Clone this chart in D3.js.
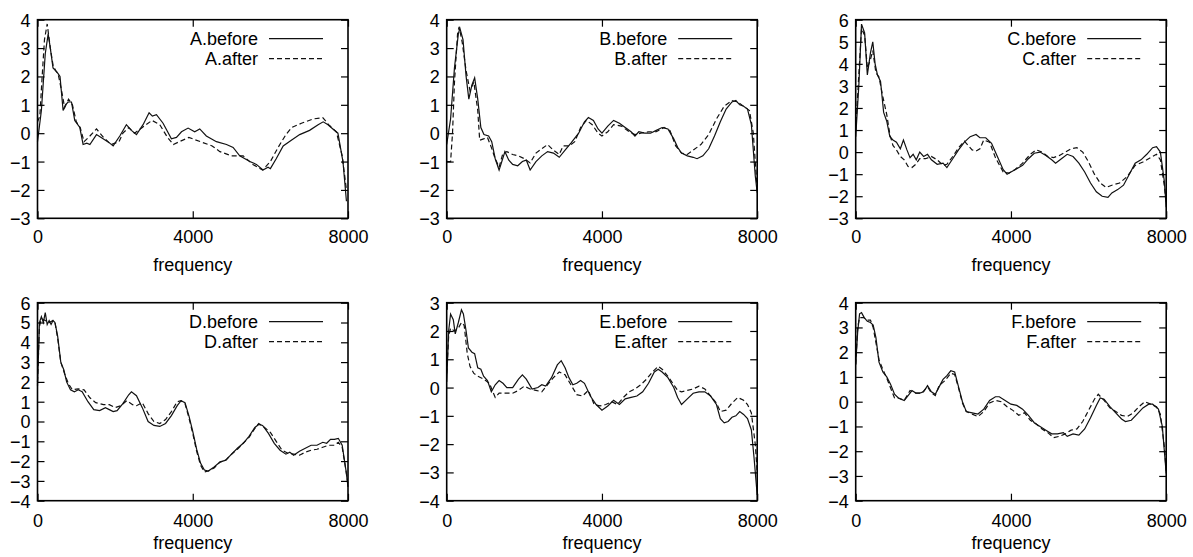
<!DOCTYPE html>
<html>
<head>
<meta charset="utf-8">
<script src="https://cdn.jsdelivr.net/npm/d3@7"></script>
<style>
  body { margin: 0; background: #fff; }
  svg { display: block; font-family: "Liberation Sans", Arial, Helvetica, sans-serif; }
</style>
</head>
<body>
<div id="chart"></div>
<script>
// values: [frequency, value]
var xTicks = [0, 4000, 8000];
var panelNames = ["A", "B", "C", "D", "E", "F"];
var yDomains = [[-3, 4], [-3, 4], [-3, 6], [-4, 6], [-4, 3], [-4, 4]];

var aBefore = [[0,-0.3],[100,0.8],[200,2.8],[275,3.5],[330,3.0],[400,2.3],[470,2.2],[530,2.1],[580,2.0],[660,0.8],[720,1.0],[790,1.1],[875,1.1],[960,0.45],[1090,0.2],[1175,-0.4],[1270,-0.35],[1350,-0.4],[1520,-0.05],[1690,-0.2],[1860,-0.35],[1950,-0.45],[2120,-0.1],[2290,0.3],[2420,0.1],[2550,-0.05],[2720,0.3],[2875,0.72],[2960,0.6],[3065,0.65],[3235,0.35],[3450,-0.2],[3580,-0.15],[3710,0.05],[3880,0.18],[4050,0.05],[4180,0.15],[4350,-0.1],[4610,-0.3],[4870,-0.4],[5040,-0.5],[5210,-0.8],[5470,-1.0],[5640,-1.1],[5810,-1.3],[5940,-1.2],[6000,-1.25],[6150,-0.9],[6330,-0.45],[6540,-0.25],[6755,-0.05],[7010,0.1],[7230,0.3],[7360,0.4],[7485,0.3],[7610,0.15],[7740,0.0],[7870,-1.0],[7960,-2.4]];
var aAfter = [[0,0.4],[60,0.6],[120,2.0],[180,3.3],[250,3.85],[330,3.0],[400,2.4],[470,2.2],[530,2.1],[620,1.5],[700,0.9],[800,1.2],[900,1.0],[1000,0.4],[1100,0.2],[1200,-0.3],[1350,-0.1],[1520,0.15],[1700,-0.15],[1900,-0.4],[2100,-0.3],[2200,0.0],[2350,0.2],[2500,0.0],[2700,0.2],[2950,0.45],[3150,0.3],[3350,-0.15],[3500,-0.4],[3650,-0.3],[3900,-0.15],[4200,-0.3],[4500,-0.45],[4700,-0.65],[5000,-0.8],[5300,-0.8],[5550,-1.1],[5800,-1.3],[6000,-1.0],[6200,-0.5],[6400,-0.05],[6550,0.2],[6800,0.35],[7100,0.5],[7350,0.55],[7500,0.3],[7700,0.05],[7850,-0.8],[7960,-2.0]];

var bBefore = [[0,-0.4],[100,0.5],[200,2.3],[300,3.5],[340,3.7],[420,3.3],[500,2.0],[570,1.2],[650,1.7],[720,1.95],[800,1.2],[880,0.2],[960,-0.05],[1080,-0.1],[1160,-0.3],[1250,-0.9],[1350,-1.3],[1420,-1.0],[1500,-0.65],[1600,-0.95],[1700,-1.1],[1830,-1.15],[1950,-1.0],[2050,-0.95],[2150,-1.3],[2300,-1.0],[2450,-0.8],[2600,-0.65],[2750,-0.7],[2900,-0.85],[3050,-0.6],[3200,-0.35],[3400,0.0],[3550,0.4],[3650,0.55],[3780,0.45],[3900,0.15],[4000,0.0],[4150,0.25],[4300,0.45],[4450,0.35],[4600,0.2],[4750,0.05],[4850,-0.1],[4950,0.05],[5100,0.0],[5250,0.0],[5400,0.1],[5550,0.2],[5700,0.15],[5850,-0.2],[5950,-0.5],[6050,-0.7],[6200,-0.8],[6350,-0.85],[6450,-0.9],[6600,-0.8],[6750,-0.55],[6900,-0.1],[7050,0.4],[7200,0.85],[7350,1.1],[7450,1.15],[7550,1.0],[7650,0.95],[7750,0.85],[7850,0.3],[7950,-1.5],[8000,-2.1]];
var bAfter = [[0,-1.0],[100,-1.0],[150,0.0],[200,1.8],[280,3.5],[320,3.75],[400,3.2],[500,2.2],[600,1.5],[700,1.8],[800,0.8],[850,-0.25],[950,-0.2],[1050,-0.15],[1150,-0.5],[1250,-0.9],[1350,-1.2],[1450,-0.7],[1550,-0.65],[1700,-0.75],[1850,-0.8],[2000,-0.9],[2150,-1.05],[2300,-0.7],[2450,-0.55],[2600,-0.4],[2750,-0.6],[2900,-0.75],[3000,-0.45],[3150,-0.45],[3300,-0.3],[3450,0.2],[3600,0.45],[3750,0.3],[3900,0.0],[4000,-0.1],[4150,0.05],[4300,0.3],[4500,0.25],[4700,0.05],[4850,-0.05],[5000,0.0],[5200,0.05],[5400,0.05],[5600,0.2],[5750,0.1],[5900,-0.45],[6050,-0.7],[6200,-0.75],[6350,-0.6],[6550,-0.4],[6750,-0.05],[6950,0.5],[7150,0.95],[7350,1.15],[7500,1.1],[7650,0.95],[7800,0.8],[7900,0.0],[8000,-2.0]];

var cBefore = [[0,0.7],[80,3.0],[150,5.8],[230,5.4],[300,3.5],[380,4.5],[440,5.0],[500,4.0],[560,3.5],[640,3.2],[720,1.8],[800,1.4],[880,0.7],[960,0.55],[1050,0.45],[1150,0.15],[1230,0.55],[1320,0.1],[1400,-0.25],[1480,-0.1],[1560,-0.35],[1650,0.0],[1750,-0.2],[1850,-0.1],[1950,-0.35],[2100,-0.55],[2250,-0.5],[2350,-0.7],[2500,-0.3],[2650,0.1],[2800,0.45],[2950,0.7],[3100,0.8],[3200,0.65],[3350,0.65],[3500,0.4],[3650,-0.2],[3800,-0.8],[3900,-1.0],[4000,-0.9],[4150,-0.75],[4300,-0.6],[4450,-0.3],[4600,-0.05],[4750,0.0],[4900,-0.15],[5050,-0.35],[5150,-0.5],[5300,-0.3],[5450,-0.1],[5600,-0.2],[5750,-0.5],[5900,-0.9],[6050,-1.4],[6200,-1.8],[6350,-2.0],[6500,-2.05],[6600,-1.85],[6750,-1.7],[6900,-1.5],[7050,-1.0],[7200,-0.5],[7350,-0.35],[7500,-0.1],[7650,0.2],[7750,0.25],[7850,0.0],[7950,-1.3],[8000,-2.5]];
var cAfter = [[0,1.0],[80,3.5],[150,5.6],[230,5.3],[300,3.8],[380,4.2],[440,4.6],[520,3.6],[600,3.4],[700,2.5],[800,1.7],[880,0.8],[960,0.3],[1050,0.1],[1150,-0.2],[1250,-0.35],[1350,-0.65],[1450,-0.7],[1550,-0.55],[1650,-0.3],[1800,-0.3],[1950,-0.2],[2100,-0.35],[2250,-0.6],[2350,-0.55],[2500,-0.2],[2650,0.2],[2800,0.5],[2900,0.3],[3000,0.1],[3100,0.05],[3200,0.15],[3300,0.55],[3450,0.45],[3600,-0.25],[3800,-0.9],[3950,-0.95],[4100,-0.8],[4300,-0.5],[4500,-0.1],[4650,0.1],[4800,0.0],[4950,-0.2],[5100,-0.25],[5250,-0.15],[5400,0.0],[5550,0.15],[5700,0.2],[5850,0.0],[6000,-0.45],[6150,-1.0],[6300,-1.4],[6450,-1.6],[6600,-1.5],[6800,-1.4],[7000,-1.1],[7200,-0.6],[7400,-0.45],[7600,-0.25],[7750,-0.1],[7850,-0.35],[7950,-1.5],[8000,-2.3]];

var dBefore = [[0,1.8],[50,5.0],[100,5.3],[150,5.0],[200,5.5],[250,4.9],[300,5.1],[350,4.9],[400,5.1],[450,5.0],[520,4.3],[600,3.0],[680,2.6],[750,2.0],[850,1.6],[950,1.5],[1050,1.6],[1150,1.5],[1300,1.0],[1450,0.6],[1600,0.55],[1750,0.7],[1850,0.6],[1950,0.5],[2050,0.55],[2200,0.9],[2350,1.35],[2420,1.5],[2550,1.3],[2700,0.7],[2850,0.0],[3000,-0.2],[3150,-0.25],[3300,-0.1],[3450,0.3],[3600,0.8],[3700,1.05],[3800,0.95],[3900,0.3],[4000,-0.5],[4100,-1.4],[4200,-2.1],[4300,-2.45],[4400,-2.5],[4550,-2.3],[4700,-2.05],[4850,-1.95],[5000,-1.65],[5150,-1.35],[5300,-1.1],[5450,-0.75],[5600,-0.3],[5700,-0.15],[5800,-0.2],[5950,-0.6],[6100,-1.1],[6250,-1.45],[6400,-1.65],[6500,-1.55],[6600,-1.7],[6750,-1.5],[6900,-1.35],[7050,-1.2],[7200,-1.2],[7350,-1.05],[7450,-1.1],[7550,-0.9],[7650,-0.9],[7750,-0.85],[7850,-1.2],[7950,-2.5],[8000,-3.3]];
var dAfter = [[0,2.0],[50,4.8],[100,5.2],[200,5.1],[300,5.0],[400,5.1],[450,5.0],[520,4.2],[600,3.0],[700,2.4],[800,1.9],[900,1.6],[1050,1.65],[1200,1.6],[1350,1.2],[1500,0.95],[1700,0.85],[1850,0.85],[2000,0.7],[2150,0.8],[2300,1.05],[2450,0.85],[2550,0.8],[2700,0.95],[2850,0.4],[3000,0.0],[3150,-0.1],[3300,0.1],[3450,0.5],[3600,1.0],[3700,1.05],[3800,0.9],[3900,0.2],[4000,-0.6],[4100,-1.5],[4200,-2.2],[4300,-2.55],[4400,-2.5],[4550,-2.35],[4700,-2.05],[4850,-1.95],[5000,-1.65],[5150,-1.4],[5300,-1.1],[5450,-0.8],[5600,-0.35],[5700,-0.1],[5850,-0.3],[6000,-0.55],[6150,-1.0],[6300,-1.45],[6450,-1.6],[6600,-1.65],[6750,-1.7],[6900,-1.55],[7050,-1.45],[7200,-1.4],[7350,-1.3],[7500,-1.2],[7650,-1.2],[7750,-1.05],[7850,-1.3],[7950,-2.5],[8000,-3.2]];

var eBefore = [[0,0.2],[50,2.0],[100,2.6],[170,2.4],[220,1.9],[300,2.3],[380,2.75],[430,2.6],[500,2.0],[560,1.4],[650,1.25],[720,1.2],[800,0.7],[880,0.65],[950,0.4],[1050,0.25],[1150,-0.15],[1250,0.1],[1350,0.25],[1450,0.15],[1550,0.0],[1700,0.0],[1850,0.3],[1950,0.45],[2050,0.3],[2200,-0.05],[2350,0.0],[2450,0.1],[2550,0.05],[2700,0.35],[2850,0.8],[2950,0.95],[3050,0.7],[3150,0.35],[3250,0.1],[3350,0.15],[3450,0.25],[3550,0.15],[3700,-0.3],[3850,-0.6],[4000,-0.8],[4150,-0.65],[4300,-0.45],[4450,-0.6],[4600,-0.4],[4750,-0.35],[4900,-0.3],[5050,-0.15],[5200,0.15],[5350,0.55],[5450,0.65],[5550,0.55],[5700,0.35],[5850,0.0],[5950,-0.35],[6050,-0.6],[6200,-0.4],[6350,-0.2],[6500,-0.15],[6650,-0.15],[6800,-0.3],[6950,-0.6],[7050,-1.1],[7150,-1.25],[7250,-1.2],[7350,-1.05],[7450,-1.0],[7550,-0.85],[7650,-0.95],[7750,-1.1],[7850,-1.5],[7920,-2.5],[8000,-3.8]];
var eAfter = [[0,0.5],[50,1.8],[100,2.1],[200,2.0],[300,2.1],[380,2.3],[450,2.2],[530,1.2],[600,0.75],[700,0.5],[800,0.4],[950,0.3],[1100,0.15],[1250,-0.35],[1350,-0.2],[1500,-0.2],[1700,-0.2],[1850,-0.1],[2000,0.05],[2150,-0.05],[2300,-0.1],[2450,-0.15],[2600,0.1],[2750,0.35],[2900,0.55],[3050,0.45],[3200,0.1],[3350,-0.25],[3500,-0.3],[3650,-0.1],[3800,-0.6],[3950,-0.65],[4100,-0.6],[4250,-0.5],[4400,-0.6],[4550,-0.35],[4700,-0.15],[4850,-0.05],[5000,0.1],[5150,0.3],[5300,0.55],[5450,0.75],[5550,0.65],[5700,0.4],[5850,0.1],[5950,-0.1],[6050,-0.15],[6200,-0.1],[6350,-0.05],[6500,0.05],[6650,-0.05],[6800,-0.3],[6950,-0.55],[7050,-0.85],[7200,-0.8],[7350,-0.55],[7500,-0.35],[7650,-0.45],[7750,-0.6],[7850,-0.9],[7950,-2.0],[8000,-3.0]];

var fBefore = [[0,1.5],[50,2.8],[100,3.55],[150,3.6],[220,3.4],[300,3.25],[380,3.2],[450,3.1],[520,2.6],[600,1.6],[700,1.2],[800,1.0],[900,0.7],[1000,0.3],[1100,0.15],[1250,0.05],[1350,0.25],[1450,0.45],[1550,0.35],[1650,0.35],[1750,0.4],[1850,0.65],[1950,0.4],[2050,0.3],[2150,0.6],[2250,0.9],[2350,1.05],[2450,1.25],[2550,1.2],[2650,0.6],[2750,0.0],[2850,-0.4],[3000,-0.45],[3150,-0.5],[3300,-0.3],[3450,0.05],[3600,0.2],[3700,0.2],[3850,0.05],[4000,-0.1],[4150,-0.15],[4300,-0.3],[4450,-0.55],[4600,-0.85],[4750,-1.0],[4900,-1.15],[5050,-1.3],[5200,-1.3],[5350,-1.25],[5450,-1.4],[5600,-1.3],[5750,-1.35],[5900,-1.1],[6050,-0.65],[6200,-0.15],[6300,0.15],[6400,0.1],[6550,-0.2],[6700,-0.45],[6850,-0.7],[6950,-0.8],[7100,-0.75],[7250,-0.5],[7400,-0.25],[7550,-0.1],[7650,-0.1],[7800,-0.3],[7900,-1.0],[8000,-2.9]];
var fAfter = [[0,1.5],[50,3.0],[100,3.4],[200,3.4],[300,3.3],[380,3.3],[450,3.0],[520,2.4],[600,1.7],[700,1.3],[800,0.95],[900,0.55],[1000,0.15],[1100,0.15],[1250,0.05],[1400,0.45],[1550,0.35],[1700,0.35],[1850,0.6],[1950,0.35],[2050,0.25],[2150,0.65],[2300,0.85],[2450,1.15],[2550,1.1],[2650,0.55],[2750,-0.05],[2850,-0.4],[3000,-0.5],[3150,-0.6],[3300,-0.4],[3450,-0.05],[3600,0.05],[3750,0.0],[3900,-0.2],[4050,-0.35],[4200,-0.55],[4350,-0.45],[4500,-0.75],[4650,-0.9],[4800,-1.1],[4950,-1.25],[5100,-1.45],[5250,-1.4],[5400,-1.3],[5550,-1.15],[5700,-1.1],[5850,-0.8],[6000,-0.35],[6150,0.1],[6250,0.3],[6400,0.05],[6550,-0.25],[6700,-0.4],[6850,-0.55],[7000,-0.6],[7150,-0.45],[7300,-0.2],[7450,0.0],[7600,-0.1],[7750,-0.2],[7850,-0.5],[7950,-1.8],[8000,-2.8]];

var beforeSeries = [aBefore, bBefore, cBefore, dBefore, eBefore, fBefore];
var afterSeries = [aAfter, bAfter, cAfter, dAfter, eAfter, fAfter];

// layout
var W = 1193, H = 557;
var colLeft = [37.5, 446.7, 855.7];
var plotW = 310.5;
var rowTop = [19.7, 302.7];
var rowBottom = [218.3, 500.7];
var tickLabelDy = [25, 26.5];
var xLabelDy = [53, 48];
var tickLen = 7;
var fontSize = 18;

var svg = d3.select("#chart").append("svg")
    .attr("width", W)
    .attr("height", H);

for (var p = 0; p < 6; p++) {
    var col = p % 3, row = Math.floor(p / 3);
    var x0 = colLeft[col], x1 = colLeft[col] + plotW;
    var y0 = rowTop[row], y1 = rowBottom[row];

    var x = d3.scaleLinear().domain([0, 8000]).range([x0, x1]);
    var y = d3.scaleLinear().domain(yDomains[p]).range([y1, y0]);
    var yTicks = d3.range(yDomains[p][0], yDomains[p][1] + 1);

    var g = svg.append("g");

    // curves
    var line = d3.line()
        .x(function (d) { return x(d[0]); })
        .y(function (d) { return y(d[1]); });

    g.append("path")
        .datum(afterSeries[p])
        .attr("d", line)
        .attr("fill", "none")
        .attr("stroke", "#111")
        .attr("stroke-width", 1.2)
        .attr("stroke-dasharray", "5,3");

    g.append("path")
        .datum(beforeSeries[p])
        .attr("d", line)
        .attr("fill", "none")
        .attr("stroke", "#111")
        .attr("stroke-width", 1.2);

    // y axis left + mirror ticks on the right
    var yAxisL = d3.axisLeft(y).tickValues(yTicks).tickSize(-tickLen).tickPadding(tickLen + 6)
        .tickFormat(d3.format("d"));
    var gl = g.append("g").attr("transform", "translate(" + x0 + ",0)").call(yAxisL);
    var yAxisR = d3.axisRight(y).tickValues(yTicks).tickSize(-tickLen).tickFormat("");
    var gr = g.append("g").attr("transform", "translate(" + x1 + ",0)").call(yAxisR);

    // x axis bottom + mirror on top
    var xAxisB = d3.axisBottom(x).tickValues(xTicks).tickSize(-tickLen).tickFormat(d3.format("d"));
    var gb = g.append("g").attr("transform", "translate(0," + y1 + ")").call(xAxisB);
    var xAxisT = d3.axisTop(x).tickValues(xTicks).tickSize(-tickLen).tickFormat("");
    var gt = g.append("g").attr("transform", "translate(0," + y0 + ")").call(xAxisT);

    [gl, gr, gb, gt].forEach(function (a) {
        a.select(".domain").remove();
        a.selectAll(".tick line").attr("stroke", "#000").attr("stroke-width", 1.2);
        a.selectAll("text").attr("font-size", fontSize).attr("fill", "#000")
            .attr("font-family", "'Liberation Sans', Arial, sans-serif");
    });
    gl.selectAll("text").attr("x", -7).attr("dy", "0.36em");
    gb.selectAll("text").attr("y", tickLabelDy[row]).attr("dy", 0);

    // frame
    g.append("rect")
        .attr("x", x0).attr("y", y0)
        .attr("width", x1 - x0).attr("height", y1 - y0)
        .attr("fill", "none")
        .attr("stroke", "#000")
        .attr("stroke-width", 1.6);

    // x label
    g.append("text")
        .attr("x", (x0 + x1) / 2)
        .attr("y", y1 + xLabelDy[row])
        .attr("text-anchor", "middle")
        .attr("font-size", fontSize)
        .text("frequency");

    // legend
    var legend = [[panelNames[p] + ".before", null], [panelNames[p] + ".after", "5,3"]];
    legend.forEach(function (item, k) {
        var ly = y0 + 19 + k * 20;
        g.append("text")
            .attr("x", x1 - 90)
            .attr("y", ly)
            .attr("dy", "0.36em")
            .attr("text-anchor", "end")
            .attr("font-size", fontSize)
            .text(item[0]);
        g.append("line")
            .attr("x1", x1 - 79).attr("x2", x1 - 25)
            .attr("y1", ly).attr("y2", ly)
            .attr("stroke", "#111")
            .attr("stroke-width", 1.2)
            .attr("stroke-dasharray", item[1]);
    });
}
</script>
</body>
</html>
